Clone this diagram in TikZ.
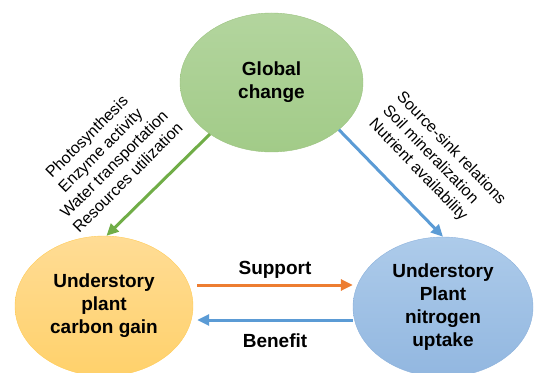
\documentclass[tikz,border=0pt]{standalone}
\usepackage{fontspec}
\setmainfont{Liberation Sans}
\usetikzlibrary{shapes.geometric,arrows.meta}

\definecolor{gctop}{HTML}{B3D59E}
\definecolor{gcbot}{HTML}{A2CB88}
\definecolor{gcline}{HTML}{9CC381}
\definecolor{cgtop}{HTML}{FFDC95}
\definecolor{cgbot}{HTML}{FFD16B}
\definecolor{cgline}{HTML}{FFCB57}
\definecolor{nutop}{HTML}{ADCBEA}
\definecolor{nubot}{HTML}{92B7E0}
\definecolor{nuline}{HTML}{8DB2DC}
\definecolor{greenarrow}{HTML}{70AD47}
\definecolor{bluearrow}{HTML}{5B9BD5}
\definecolor{orangearrow}{HTML}{ED7D31}

\begin{document}
\begin{tikzpicture}[x=1pt, y=1pt,
        bubble/.style={shape=ellipse, inner sep=0pt, align=center,
            font=\fontsize{19}{23}\selectfont\bfseries},
        factors/.style={inner sep=0pt, font=\fontsize{16}{19.3}\selectfont},
        link/.style={-{Triangle[length=12pt,width=11pt]}, line width=3pt},
        linklabel/.style={text=black, font=\fontsize{19}{23}\selectfont\bfseries}]

            \useasboundingbox (0,0) rectangle (534,372);

            \node[bubble, minimum width=183pt, minimum height=139pt, top color=gctop, bottom color=gcbot, draw=gcline] (GC) at (271.5,289.5) {Global\\change};
            \node[bubble, minimum width=178pt, minimum height=140pt, top color=cgtop, bottom color=cgbot, draw=cgline] (CG) at (104,66) {Understory\\plant\\carbon gain};
            \node[bubble, minimum width=180pt, minimum height=140pt, top color=nutop, bottom color=nubot, draw=nuline] (NU) at (443,65) {Understory\\Plant\\nitrogen\\uptake};

            % drivers on each side
            \node[factors, rotate=45, align=center] (FC) at (107,215) {Photosynthesis\\Enzyme activity\\Water transportation\\Resources utilization};
            \node[factors, rotate=-46, align=left] (FN) at (437,210) {Source-sink relations\\Soil mineralization\\Nutrient availability};

            \path[link, color=greenarrow](GC.220) edge (CG.88);
            \path[link, color=bluearrow](GC.325) edge (NU.north);

            \path[link, color=orangearrow]([shift={(4pt,21pt)}]CG.east) edge node[linklabel, above=2pt] {Support} ([yshift=22pt]NU.west);
            \path[link, color=bluearrow]([yshift=-13pt]NU.west) edge node[linklabel, below=9pt] {Benefit} ([shift={(4pt,-14pt)}]CG.east);
        \end{tikzpicture}
\end{document}
